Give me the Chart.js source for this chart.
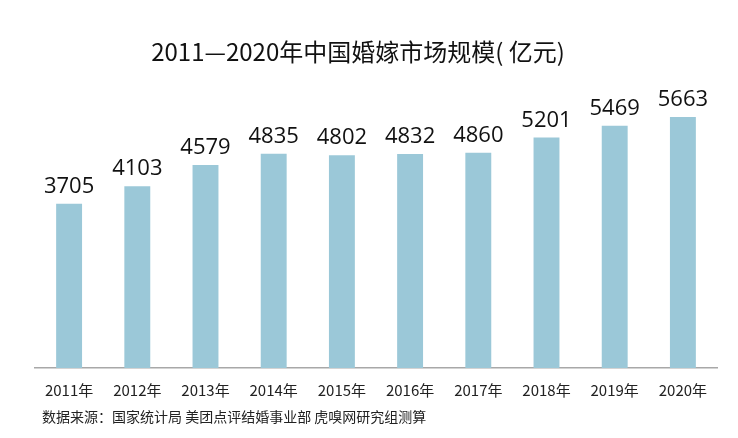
<!DOCTYPE html>
<html>
<head>
<meta charset="utf-8">
<script src="https://cdn.jsdelivr.net/npm/chart.js@4/dist/chart.umd.min.js"></script>
<style>
  html, body { margin: 0; padding: 0; background: #fff; }
</style>
</head>
<body>
<canvas id="graficoMercado" width="738" height="438"></canvas>
<script>
const years = ['2011年', '2012年', '2013年', '2014年', '2015年', '2016年', '2017年', '2018年', '2019年', '2020年'];
const marketSize = [3705, 4103, 4579, 4835, 4802, 4832, 4860, 5201, 5469, 5663];
const titleText = '2011—2020年中国婚嫁市场规模( 亿元)';
const sourceText = '数据来源：国家统计局 美团点评结婚事业部 虎嗅网研究组测算';

// value labels, title and source line
const textPlugin = {
    id: 'textos',
    afterDatasetsDraw(chart) {
        const c = chart.ctx;
        const meta = chart.getDatasetMeta(0);
        c.save();
        c.fillStyle = '#111111';
        c.textAlign = 'center';
        c.textBaseline = 'alphabetic';
        c.font = '22px "Open Sans"';
        meta.data.forEach((bar, i) => {
            c.fillText(String(marketSize[i]), bar.x, bar.y - 11);
        });
        c.font = '24px "Noto Sans CJK SC"';
        c.textBaseline = 'middle';
        c.fillText(titleText, 358, 52);
        c.font = '14px "Noto Sans CJK SC"';
        c.textAlign = 'left';
        c.fillStyle = '#222222';
        c.fillText(sourceText, 42, 417);
        c.restore();
    }
};

const ctx = document.getElementById('graficoMercado').getContext('2d');

const config = {
    type: 'bar',
    data: {
        labels: years,
        datasets: [{
            data: marketSize,
            backgroundColor: '#9bc8d8',
            borderWidth: 0,
            barPercentage: 0.38,
            categoryPercentage: 1
        }]
    },
    options: {
        responsive: false,
        animation: false,
        layout: {
            padding: { top: 80, left: 35, right: 21, bottom: 34 }
        },
        plugins: {
            legend: { display: false },
            tooltip: { enabled: false }
        },
        scales: {
            y: {
                display: false,
                min: 0,
                max: 6500
            },
            x: {
                grid: { display: false },
                border: { color: '#a8a8a8', width: 1.5 },
                ticks: {
                    color: '#222222',
                    padding: 5,
                    font: { family: '"Noto Sans CJK SC"', size: 15 }
                }
            }
        }
    },
    plugins: [textPlugin]
};

const grafico = new Chart(ctx, config);
</script>
</body>
</html>
